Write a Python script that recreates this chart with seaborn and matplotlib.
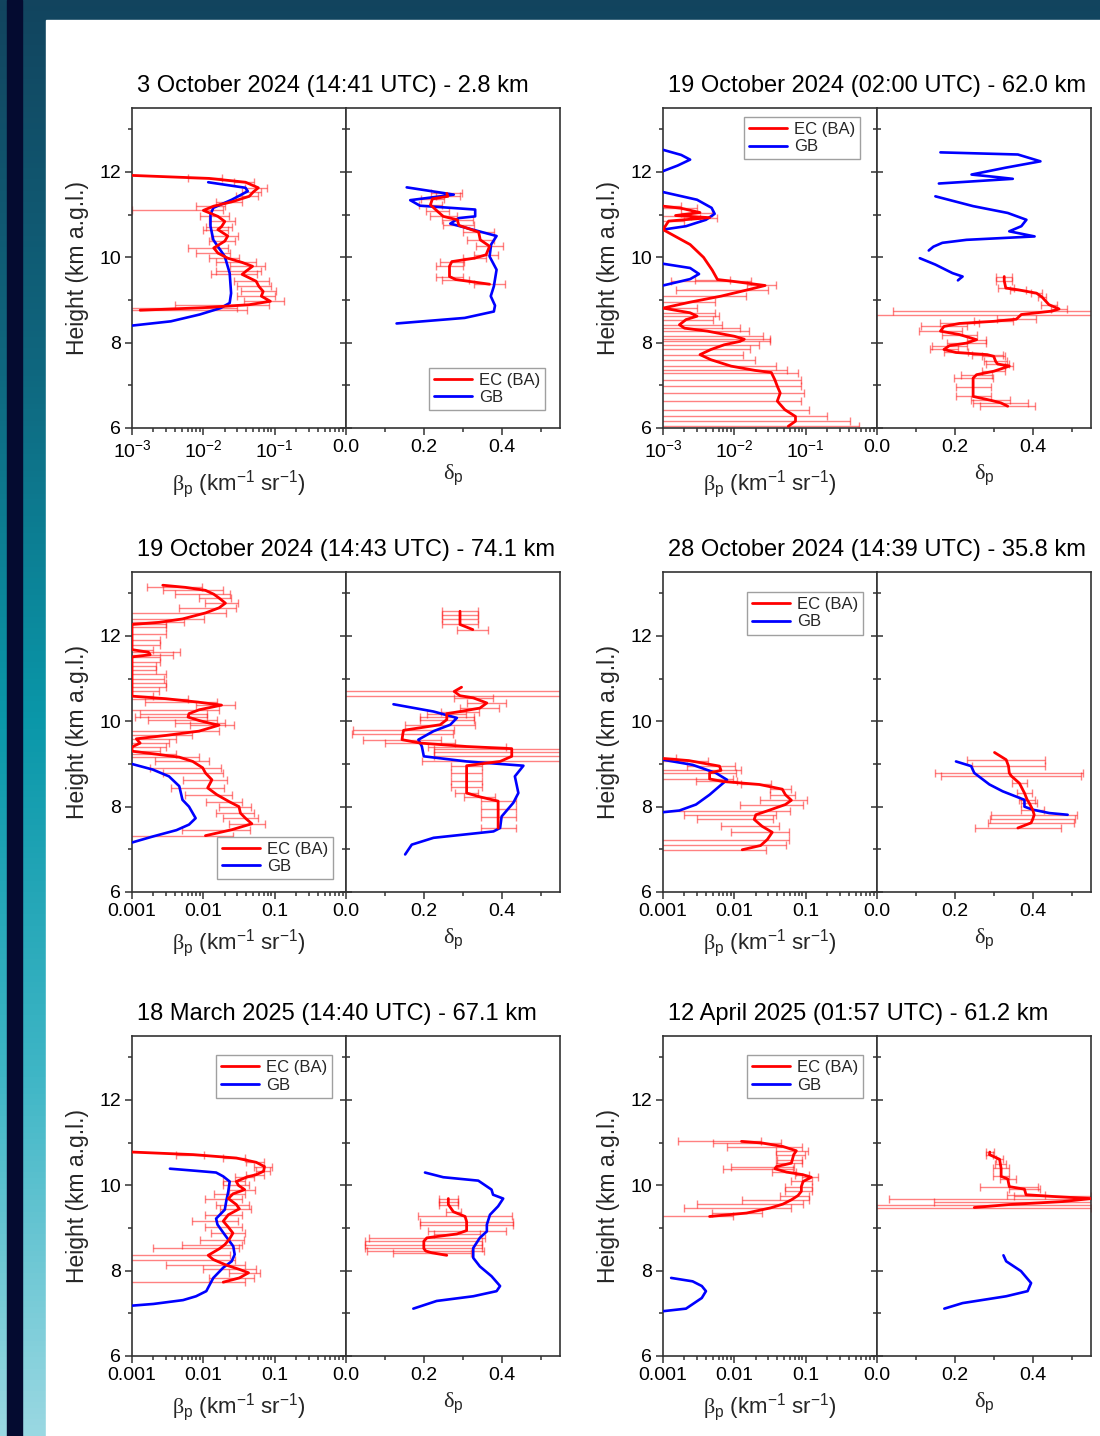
import matplotlib
matplotlib.use("Agg")
import matplotlib.pyplot as plt
import matplotlib.ticker as mticker
import numpy as np
import seaborn as sns
from matplotlib.colors import LinearSegmentedColormap
from matplotlib.lines import Line2D
from matplotlib.patches import Rectangle

# ---------------------------------------------------------------- data
titles = [
    "3 October 2024 (14:41 UTC) - 2.8 km",
    "19 October 2024 (02:00 UTC) - 62.0 km",
    "19 October 2024 (14:43 UTC) - 74.1 km",
    "28 October 2024 (14:39 UTC) - 35.8 km",
    "18 March 2025 (14:40 UTC) - 67.1 km",
    "12 April 2025 (01:57 UTC) - 61.2 km",
]

# panel 1 - 3 October 2024
p1_ec_h = [11.92, 11.85, 11.76, 11.63, 11.53, 11.43, 11.3, 11.2, 11.1, 10.96, 10.84, 10.72,
           10.65, 10.5, 10.38, 10.22, 10.1, 9.98, 9.88, 9.79, 9.68, 9.6, 9.44, 9.32, 9.2,
           9.09, 8.97, 8.89, 8.82, 8.76]
p1_ec_beta = [0.001, 0.012, 0.039, 0.059, 0.05, 0.044, 0.025, 0.014, 0.010, 0.016, 0.020,
              0.018, 0.016, 0.022, 0.020, 0.014, 0.016, 0.022, 0.035, 0.049, 0.040, 0.035,
              0.055, 0.060, 0.069, 0.065, 0.087, 0.044, 0.010, 0.0013]
p1_ec_beta_err = [0, 0.006, 0.012, 0.02, 0.015, 0.015, 0.01, 0.006, 0.009, 0.007, 0.008,
                  0.007, 0.006, 0.009, 0.008, 0.008, 0.008, 0.01, 0.02, 0.025, 0.025, 0.022,
                  0.028, 0.03, 0.035, 0.035, 0.05, 0.04, 0.02, 0.04]
p1_gb_h = [11.76, 11.63, 11.55, 11.35, 11.16, 11.0, 10.73, 10.41, 10.02, 9.63, 9.16, 8.93,
           8.81, 8.66, 8.5, 8.4]
p1_gb_beta = [0.0117, 0.039, 0.042, 0.025, 0.0138, 0.0126, 0.0126, 0.0138, 0.020, 0.0234,
              0.0245, 0.0234, 0.0174, 0.0089, 0.0035, 0.001]
p1_ec_dh = [11.5, 11.43, 11.37, 11.23, 11.08, 10.96, 10.88, 10.75, 10.59, 10.41, 10.26,
            10.06, 9.98, 9.9, 9.79, 9.55, 9.48, 9.37]
p1_ec_delta = [0.259, 0.262, 0.222, 0.217, 0.235, 0.25, 0.286, 0.29, 0.341, 0.345, 0.369,
               0.36, 0.33, 0.272, 0.266, 0.266, 0.282, 0.369]
p1_ec_delta_err = [0.04, 0.03, 0.03, 0.03, 0.03, 0.035, 0.04, 0.04, 0.04, 0.035, 0.035,
                   0.03, 0.03, 0.03, 0.035, 0.035, 0.035, 0.04]
p1_gb_dh = [11.64, 11.47, 11.34, 11.21, 11.12, 10.96, 10.92, 10.79, 10.5, 10.3, 10.02,
            9.71, 9.32, 9.09, 8.87, 8.73, 8.58, 8.45]
p1_gb_delta = [0.156, 0.277, 0.165, 0.19, 0.332, 0.332, 0.29, 0.268, 0.387, 0.373, 0.369,
               0.387, 0.38, 0.372, 0.383, 0.38, 0.305, 0.13]

# panel 2 - 19 October 2024 (02:00)
p2_ec_h = [11.2, 11.15, 11.05, 10.98, 10.93, 10.85, 10.65, 10.3, 10.0, 9.7, 9.48, 9.44,
           9.34, 9.24, 9.09, 8.95, 8.81, 8.7, 8.62, 8.54, 8.42, 8.34, 8.27, 8.15, 8.08,
           8.03, 7.95, 7.84, 7.72, 7.6, 7.45, 7.35, 7.3, 7.13, 6.98, 6.82, 6.63, 6.43,
           6.27, 6.16, 6.04]
p2_ec_beta = [0.001, 0.0018, 0.0033, 0.0015, 0.0045, 0.0012, 0.001, 0.0024, 0.0037, 0.0049,
              0.0058, 0.0093, 0.027, 0.0155, 0.0065, 0.0024, 0.001, 0.0024, 0.003, 0.0021,
              0.0017, 0.002, 0.0042, 0.010, 0.0138, 0.012, 0.0072, 0.0047, 0.0033, 0.0047,
              0.009, 0.0195, 0.033, 0.037, 0.040, 0.044, 0.040, 0.051, 0.072, 0.072, 0.057]
p2_ec_beta_err = [0.0008, 0.0012, 0.0015, 0.001, 0.0012, 0.0008, 0, 0, 0, 0, 0.003, 0.008,
                  0.012, 0.014, 0.008, 0.003, 0.002, 0.003, 0.003, 0.003, 0.005, 0.01,
                  0.012, 0.015, 0.018, 0.02, 0.015, 0.012, 0.01, 0.015, 0.03, 0.035, 0.045,
                  0.05, 0.045, 0.05, 0.045, 0.06, 0.13, 0.35, 0.5]
p2_gb_h = [12.52, 12.4, 12.29, 12.15, 12.02, np.nan,
           11.53, 11.35, 11.16, 11.02, 10.88, 10.73, 10.65, np.nan,
           9.85, 9.75, 9.61, 9.49, 9.34]
p2_gb_beta = [0.001, 0.0018, 0.0024, 0.0016, 0.001, np.nan,
              0.001, 0.003, 0.0048, 0.0053, 0.0040, 0.0021, 0.001, np.nan,
              0.001, 0.0024, 0.0032, 0.0024, 0.001]
p2_ec_dh = [9.55, 9.45, 9.28, 9.24, 9.16, 9.07, 8.89, 8.79, 8.74, 8.66, 8.55, 8.5, 8.45,
            8.38, 8.27, 8.19, 8.07, 7.99, 7.93, 7.84, 7.77, 7.72, 7.68, 7.56, 7.5, 7.45,
            7.33, 7.25, 7.17, 6.95, 6.74, 6.65, 6.59, 6.51]
p2_ec_delta = [0.327, 0.327, 0.331, 0.362, 0.41, 0.424, 0.442, 0.468, 0.45, 0.371, 0.358,
               0.30, 0.212, 0.172, 0.163, 0.212, 0.256, 0.23, 0.186, 0.172, 0.203, 0.283,
               0.30, 0.305, 0.31, 0.34, 0.30, 0.256, 0.247, 0.247, 0.247, 0.292, 0.318,
               0.336]
p2_ec_delta_err = [0.02, 0.02, 0.02, 0.02, 0.015, 0.01, 0.02, 0.02, 0.41, 0.38, 0.05, 0.05,
                   0.05, 0.06, 0.055, 0.045, 0.025, 0.05, 0.045, 0.035, 0.03, 0.04, 0.03,
                   0.03, 0.03, 0.01, 0.03, 0.04, 0.05, 0.045, 0.045, 0.05, 0.07, 0.07]
p2_gb_dh = [12.46, 12.41, 12.25, 12.1, 11.94, 11.88, 11.84, 11.73, np.nan,
            11.43, 11.2, 11.04, 10.88, 10.73, 10.61, 10.49, 10.41, 10.34, 10.25, 10.16,
            np.nan, 9.98, 9.83, 9.63, 9.55, 9.5, 9.46]
p2_gb_delta = [0.163, 0.362, 0.42, 0.33, 0.243, 0.309, 0.349, 0.159, np.nan,
               0.15, 0.247, 0.336, 0.384, 0.371, 0.34, 0.405, 0.23, 0.168, 0.145, 0.133,
               np.nan, 0.11, 0.15, 0.194, 0.22, 0.213, 0.208]

# panel 3 - 19 October 2024 (14:43)
p3_ec_h = [13.19, 13.14, 13.07, 12.98, 12.89, 12.77, 12.66, 12.54, 12.4, 12.32, 12.27,
           12.2, 12.05, 11.9, 11.8, 11.68, 11.62, 11.56, 11.51, 11.4, 11.3, 11.2, 11.1,
           11.0, 10.9, 10.8, 10.7, 10.59, 10.53, 10.45, 10.38, 10.27, 10.18, 10.1, 10.02,
           9.96, 9.91, 9.77, 9.67, 9.59, 9.49, 9.4, 9.3, 9.23, 9.16, 9.06, 8.91, 8.79,
           8.63, 8.44, 8.28, 8.12, 8.0, 7.85, 7.73, 7.6, 7.46, 7.32]
p3_ec_beta = [0.0027, 0.0056, 0.0107, 0.014, 0.0166, 0.0204, 0.0166, 0.0107, 0.0051,
              0.0024, 0.001, 0.001, 0.001, 0.001, 0.001, 0.001, 0.0017, 0.0018, 0.001,
              0.001, 0.001, 0.001, 0.001, 0.001, 0.001, 0.001, 0.001, 0.001, 0.003, 0.0085,
              0.018, 0.0087, 0.0063, 0.0061, 0.0087, 0.012, 0.0166, 0.0087, 0.003, 0.00115,
              0.0013, 0.001, 0.001, 0.0022, 0.0046, 0.0071, 0.0098, 0.0107, 0.0132, 0.0115,
              0.0155, 0.0229, 0.0316, 0.0331, 0.0389, 0.0479, 0.0251, 0.0107]
p3_ec_beta_err = [0, 0.004, 0.008, 0.01, 0.008, 0.01, 0.012, 0.01, 0.005, 0.003, 0.002,
                  0.002, 0.002, 0.0015, 0.0015, 0.001, 0.003, 0.002, 0.0015, 0.0015, 0.0012,
                  0.0012, 0.002, 0.0018, 0.002, 0.002, 0.0014, 0.001, 0.003, 0.007, 0.01,
                  0.008, 0.005, 0.005, 0.007, 0.008, 0.01, 0.008, 0.004, 0.003, 0.002, 0.002,
                  0.0015, 0.002, 0.004, 0.005, 0.008, 0.008, 0.008, 0.008, 0.01, 0.012,
                  0.015, 0.018, 0.02, 0.025, 0.02, 0.015]
p3_gb_h = [9.0, 8.87, 8.71, 8.48, 8.16, 8.0, 7.73, 7.58, 7.45, 7.3, 7.16]
p3_gb_beta = [0.001, 0.00195, 0.0033, 0.0046, 0.0051, 0.0063, 0.0078, 0.0063, 0.0042,
              0.00195, 0.001]
p3_ec_dh = [12.58, 12.5, 12.4, 12.27, 12.15, np.nan,
            10.8, 10.7, 10.6, 10.55, 10.43, 10.31, 10.23, 10.18, 10.1, 10.04, 9.92, 9.79,
            9.7, 9.57, 9.49, 9.41, 9.36, 9.27, 9.18, 9.06, 8.96, 8.8, 8.6, 8.45, 8.32,
            8.23, 8.13, 7.95, 7.75, 7.5]
p3_ec_delta = [0.293, 0.293, 0.293, 0.293, 0.326, np.nan,
               0.297, 0.278, 0.293, 0.327, 0.362, 0.344, 0.293, 0.259, 0.259, 0.259, 0.242,
               0.148, 0.146, 0.144, 0.191, 0.31, 0.426, 0.426, 0.426, 0.396, 0.31, 0.31,
               0.31, 0.31, 0.31, 0.344, 0.391, 0.391, 0.391, 0.391]
p3_ec_delta_err = [0.045, 0.045, 0.045, 0.045, 0.04, np.nan,
                   0, 0.4, 0.4, 0.05, 0.05, 0.05, 0.05, 0.05, 0.07, 0.07, 0.09, 0.13, 0.13,
                   0.1, 0.09, 0.1, 0.2, 0.2, 0.2, 0.2, 0.04, 0.04, 0.04, 0.04, 0.03, 0.04,
                   0.045, 0.045, 0.045, 0.045]
p3_gb_dh = [10.4, 10.23, 10.08, 9.92, 9.77, 9.57, 9.41, 9.18, 9.06, 8.96, 8.71, 8.32,
            8.09, 7.77, 7.5, 7.42, 7.27, 7.11, 6.88]
p3_gb_delta = [0.122, 0.225, 0.285, 0.268, 0.225, 0.186, 0.195, 0.2, 0.31, 0.456, 0.434,
               0.443, 0.43, 0.4, 0.396, 0.379, 0.225, 0.169, 0.152]

# panel 4 - 28 October 2024
p4_ec_h = [9.13, 9.08, 8.95, 8.85, 8.79, 8.65, 8.59, 8.52, 8.41, 8.28, 8.15, 8.05, 7.91,
           7.81, 7.7, 7.54, 7.4, 7.23, 7.09, 6.99]
p4_ec_beta = [0.001, 0.0023, 0.0062, 0.0065, 0.0045, 0.0045, 0.0069, 0.0224, 0.047, 0.052,
              0.063, 0.052, 0.030, 0.020, 0.019, 0.0245, 0.034, 0.029, 0.0234, 0.0129]
p4_ec_beta_err = [0.0005, 0.002, 0.004, 0.006, 0.006, 0.005, 0.004, 0.01, 0.015, 0.02,
                  0.04, 0.04, 0.03, 0.018, 0.016, 0.018, 0.025, 0.03, 0.03, 0.015]
p4_gb_h = [9.1, 8.98, 8.79, 8.63, 8.48, 8.28, 8.05, 7.91, 7.87]
p4_gb_beta = [0.001, 0.0026, 0.0055, 0.0079, 0.0062, 0.0045, 0.0029, 0.0017, 0.001]
p4_ec_dh = [9.27, 9.1, 8.95, 8.79, 8.72, 8.55, 8.32, 8.16, 8.09, 7.93, 7.81, 7.7, 7.62, 7.5]
p4_ec_delta = [0.302, 0.332, 0.338, 0.34, 0.345, 0.366, 0.379, 0.386, 0.391, 0.40, 0.404,
               0.40, 0.396, 0.362]
p4_ec_delta_err = [0, 0.1, 0.095, 0.19, 0.18, 0.02, 0.02, 0.02, 0.02, 0.03, 0.11, 0.11,
                   0.11, 0.11]
p4_gb_dh = [9.06, 8.95, 8.79, 8.52, 8.36, 8.16, 8.0, 7.93, 7.85, 7.81]
p4_gb_delta = [0.203, 0.242, 0.25, 0.289, 0.323, 0.379, 0.379, 0.4, 0.443, 0.49]

# panel 5 - 18 March 2025
p5_ec_h = [10.78, 10.72, 10.64, 10.54, 10.44, 10.33, 10.25, 10.19, 10.09, 10.0, 9.9, 9.8,
           9.69, 9.55, 9.45, 9.31, 9.16, 9.02, 8.88, 8.73, 8.61, 8.52, 8.36, 8.26, 8.13,
           8.03, 7.95, 7.83, 7.73]
p5_ec_beta = [0.001, 0.0072, 0.029, 0.055, 0.072, 0.070, 0.055, 0.040, 0.029, 0.031, 0.038,
              0.026, 0.0224, 0.029, 0.032, 0.0224, 0.019, 0.0224, 0.026, 0.023, 0.020,
              0.017, 0.0117, 0.0138, 0.021, 0.032, 0.043, 0.032, 0.019]
p5_ec_beta_err = [0, 0.003, 0.01, 0.015, 0.02, 0.015, 0.015, 0.012, 0.01, 0.012, 0.015,
                  0.012, 0.012, 0.014, 0.015, 0.012, 0.012, 0.012, 0.013, 0.014, 0.015,
                  0.015, 0.012, 0.014, 0.018, 0.022, 0.02, 0.02, 0.02]
p5_gb_h = [10.39, 10.34, 10.3, 10.21, 10.09, 9.86, 9.62, 9.43, 9.22, 9.08, 8.84, 8.57,
           8.38, 8.22, 8.07, 7.83, 7.52, 7.4, 7.31, 7.22, 7.18]
p5_gb_beta = [0.0034, 0.0079, 0.0151, 0.019, 0.0234, 0.0224, 0.0209, 0.020, 0.0151, 0.0158,
              0.020, 0.0263, 0.0275, 0.025, 0.019, 0.0138, 0.011, 0.0079, 0.0052, 0.002,
              0.001]
p5_ec_dh = [9.69, 9.6, 9.55, 9.38, 9.27, 9.15, 9.08, 8.94, 8.86, 8.77, 8.69, 8.6, 8.52,
            8.46, 8.42, 8.36]
p5_ec_delta = [0.263, 0.263, 0.263, 0.276, 0.306, 0.31, 0.31, 0.31, 0.285, 0.208, 0.20,
               0.20, 0.20, 0.205, 0.22, 0.259]
p5_ec_delta_err = [0.025, 0.025, 0.025, 0.02, 0.12, 0.12, 0.12, 0.10, 0.06, 0.15, 0.15,
                   0.15, 0.15, 0.15, 0.10, 0]
p5_gb_dh = [10.3, 10.19, 10.11, 9.9, 9.78, 9.69, 9.51, 9.31, 9.08, 8.92, 8.77, 8.53, 8.3,
            8.1, 7.87, 7.64, 7.52, 7.4, 7.29, 7.11]
p5_gb_delta = [0.203, 0.25, 0.34, 0.374, 0.378, 0.404, 0.391, 0.37, 0.362, 0.362, 0.344,
               0.327, 0.327, 0.344, 0.374, 0.396, 0.387, 0.327, 0.233, 0.173]

# panel 6 - 12 April 2025
p6_ec_h = [11.03, 10.99, 10.91, 10.81, 10.72, 10.6, 10.52, 10.44, 10.39, 10.31, 10.25,
           10.19, 10.09, 9.97, 9.86, 9.76, 9.66, 9.56, 9.47, 9.35, 9.27]
p6_ec_beta = [0.0126, 0.025, 0.048, 0.074, 0.068, 0.065, 0.063, 0.039, 0.037, 0.054, 0.091,
              0.12, 0.092, 0.087, 0.087, 0.078, 0.063, 0.048, 0.032, 0.0148, 0.0045]
p6_ec_beta_err = [0.011, 0.02, 0.04, 0.035, 0.03, 0.025, 0.025, 0.03, 0.03, 0.02, 0.02,
                  0.03, 0.03, 0.035, 0.035, 0.035, 0.05, 0.045, 0.03, 0.01, 0.005]
p6_gb_h = [7.83, 7.75, 7.64, 7.52, 7.36, 7.11, 7.05]
p6_gb_beta = [0.0013, 0.0026, 0.0035, 0.004, 0.0035, 0.0021, 0.001]
p6_ec_dh = [10.78, 10.72, 10.61, 10.5, 10.4, 10.21, 10.15, 9.97, 9.91, 9.78, 9.74, 9.69,
            9.62, 9.55, 9.48]
p6_ec_delta = [0.29, 0.289, 0.315, 0.317, 0.319, 0.319, 0.336, 0.34, 0.379, 0.383, 0.451,
               0.55, 0.477, 0.34, 0.25]
p6_ec_delta_err = [0.01, 0.01, 0.01, 0.015, 0.02, 0.02, 0.02, 0.075, 0.04, 0.05, 0.1, 0.52,
                   0.33, 0.35, 0.3]
p6_gb_dh = [8.36, 8.22, 7.99, 7.71, 7.52, 7.4, 7.24, 7.11]
p6_gb_delta = [0.325, 0.332, 0.37, 0.396, 0.387, 0.332, 0.22, 0.173]

panels = [
    dict(ec_h=p1_ec_h, ec_beta=p1_ec_beta, ec_beta_err=p1_ec_beta_err, gb_h=p1_gb_h,
         gb_beta=p1_gb_beta, ec_dh=p1_ec_dh, ec_delta=p1_ec_delta,
         ec_delta_err=p1_ec_delta_err, gb_dh=p1_gb_dh, gb_delta=p1_gb_delta),
    dict(ec_h=p2_ec_h, ec_beta=p2_ec_beta, ec_beta_err=p2_ec_beta_err, gb_h=p2_gb_h,
         gb_beta=p2_gb_beta, ec_dh=p2_ec_dh, ec_delta=p2_ec_delta,
         ec_delta_err=p2_ec_delta_err, gb_dh=p2_gb_dh, gb_delta=p2_gb_delta),
    dict(ec_h=p3_ec_h, ec_beta=p3_ec_beta, ec_beta_err=p3_ec_beta_err, gb_h=p3_gb_h,
         gb_beta=p3_gb_beta, ec_dh=p3_ec_dh, ec_delta=p3_ec_delta,
         ec_delta_err=p3_ec_delta_err, gb_dh=p3_gb_dh, gb_delta=p3_gb_delta),
    dict(ec_h=p4_ec_h, ec_beta=p4_ec_beta, ec_beta_err=p4_ec_beta_err, gb_h=p4_gb_h,
         gb_beta=p4_gb_beta, ec_dh=p4_ec_dh, ec_delta=p4_ec_delta,
         ec_delta_err=p4_ec_delta_err, gb_dh=p4_gb_dh, gb_delta=p4_gb_delta),
    dict(ec_h=p5_ec_h, ec_beta=p5_ec_beta, ec_beta_err=p5_ec_beta_err, gb_h=p5_gb_h,
         gb_beta=p5_gb_beta, ec_dh=p5_ec_dh, ec_delta=p5_ec_delta,
         ec_delta_err=p5_ec_delta_err, gb_dh=p5_gb_dh, gb_delta=p5_gb_delta),
    dict(ec_h=p6_ec_h, ec_beta=p6_ec_beta, ec_beta_err=p6_ec_beta_err, gb_h=p6_gb_h,
         gb_beta=p6_gb_beta, ec_dh=p6_ec_dh, ec_delta=p6_ec_delta,
         ec_delta_err=p6_ec_delta_err, gb_dh=p6_gb_dh, gb_delta=p6_gb_delta),
]

beta_ticks = [1e-3, 1e-2, 1e-1]
sci_labels = [r"$\mathdefault{10^{-3}}$", r"$\mathdefault{10^{-2}}$", r"$\mathdefault{10^{-1}}$"]
dec_labels = ["0.001", "0.01", "0.1"]
delta_ticks = [0.0, 0.2, 0.4]
delta_labels = ["0.0", "0.2", "0.4"]
height_ticks = [6, 8, 10, 12]

# ---------------------------------------------------------------- style
sns.set_theme(style="ticks")
plt.rcParams["font.family"] = ["Liberation Sans", "DejaVu Sans"]
plt.rcParams["mathtext.fontset"] = "custom"
plt.rcParams["mathtext.rm"] = "Liberation Sans"
plt.rcParams["mathtext.it"] = "Liberation Sans:italic"
plt.rcParams["mathtext.sf"] = "Liberation Serif"
plt.rcParams["axes.edgecolor"] = "#333333"
plt.rcParams["axes.linewidth"] = 1.2

EC_COLOR = "#ff0000"
GB_COLOR = "#0000ff"
ERR_COLOR = (1.0, 0.1, 0.1, 0.55)

W, H = 1100, 1436
fig = plt.figure(figsize=(W / 100, H / 100), dpi=100)

# background frame: teal gradient, navy strip, white sheet
bg = fig.add_axes([0, 0, 1, 1], zorder=-10)
bg_cmap = LinearSegmentedColormap.from_list(
    "bg", ["#12445e", "#0f667e", "#0a97a9", "#3fb6c6", "#9ad8e2"])
bg.imshow(np.linspace(0, 1, 256)[:, None], cmap=bg_cmap, aspect="auto",
          extent=[0, W, H, 0])
bg.add_patch(Rectangle((7, 0), 15, H, color="#040b30"))
bg.add_patch(Rectangle((46, 20), W - 46, H - 20, color="white"))
bg.set_xlim(0, W)
bg.set_ylim(H, 0)
bg.axis("off")


def px_rect(x0, x1, y0, y1):
    return [x0 / W, 1 - y1 / H, (x1 - x0) / W, (y1 - y0) / H]


def draw_profile(ax, x, y, color, lw):
    x = np.asarray(x, float)
    y = np.asarray(y, float)
    gaps = np.isnan(y) | np.isnan(x)
    seg = np.cumsum(gaps)
    for k in np.unique(seg[~gaps]):
        m = (seg == k) & ~gaps
        sns.lineplot(x=x[m], y=y[m], sort=False, estimator=None, color=color,
                     lw=lw, ax=ax, zorder=3)


def draw_errors(ax, x, y, err, floor):
    x = np.asarray(x, float)
    y = np.asarray(y, float)
    err = np.asarray(err, float)
    m = ~np.isnan(x) & (err > 0)
    lo = x[m] - np.maximum(x[m] - err[m], floor)
    ax.errorbar(x[m], y[m], xerr=[lo, err[m]], fmt="none", ecolor=ERR_COLOR,
                elinewidth=1.0, capsize=3, capthick=1.0, zorder=1)


col_x = [(132, 346, 560), (663, 877, 1091)]
row_y = [108, 572, 1036]
legend_spots = [
    ("d", "lower right", (0.93, 0.056)),
    ("b", "upper right", (0.92, 0.972)),
    ("b", "lower right", (0.94, 0.04)),
    ("b", "upper right", (0.935, 0.9375)),
    ("b", "upper right", (0.935, 0.94)),
    ("b", "upper right", (0.935, 0.94)),
]

for i, p in enumerate(panels):
    r, c = divmod(i, 2)
    x0, xm, x1 = col_x[c]
    y0 = row_y[r]
    y1 = y0 + 320
    ax_b = fig.add_axes(px_rect(x0, xm, y0, y1))
    ax_d = fig.add_axes(px_rect(xm, x1, y0, y1))

    # backscatter
    ax_b.set_xscale("log")
    draw_errors(ax_b, p["ec_beta"], p["ec_h"], p["ec_beta_err"], 1e-5)
    draw_profile(ax_b, p["gb_beta"], p["gb_h"], GB_COLOR, 1.9)
    draw_profile(ax_b, p["ec_beta"], p["ec_h"], EC_COLOR, 2.0)
    ax_b.set_xlim(1e-3, 1)
    ax_b.set_ylim(6, 13.5)
    ax_b.set_xticks(beta_ticks)
    ax_b.set_xticklabels(sci_labels if i < 2 else dec_labels)
    ax_b.xaxis.set_minor_locator(mticker.LogLocator(base=10, subs=np.arange(2, 10)))
    ax_b.xaxis.set_minor_formatter(mticker.NullFormatter())
    ax_b.set_yticks(height_ticks)
    ax_b.yaxis.set_minor_locator(mticker.MultipleLocator(1))
    ax_b.tick_params(which="both", direction="out", width=1.1, labelsize=14,
                     colors="#333333", labelcolor="black")
    ax_b.tick_params(which="major", length=5, pad=3)
    ax_b.tick_params(which="minor", length=3)
    ax_b.set_xlabel(r"$\mathsf{\beta}_\mathrm{p}$ (km$^{-1}$ sr$^{-1}$)", fontsize=16,
                    labelpad=5)
    ax_b.set_ylabel("Height (km a.g.l.)", fontsize=16.5, labelpad=7)

    # depolarisation
    draw_errors(ax_d, p["ec_delta"], p["ec_dh"], p["ec_delta_err"], -1.0)
    draw_profile(ax_d, p["gb_delta"], p["gb_dh"], GB_COLOR, 1.9)
    draw_profile(ax_d, p["ec_delta"], p["ec_dh"], EC_COLOR, 2.0)
    ax_d.set_xlim(0, 0.55)
    ax_d.set_ylim(6, 13.5)
    ax_d.set_xticks(delta_ticks)
    ax_d.set_xticklabels(delta_labels)
    ax_d.xaxis.set_minor_locator(mticker.FixedLocator([0.1, 0.3, 0.5]))
    ax_d.set_yticks(height_ticks)
    ax_d.yaxis.set_minor_locator(mticker.MultipleLocator(1))
    ax_d.tick_params(axis="x", which="both", direction="out", width=1.1, labelsize=14,
                     colors="#333333", labelcolor="black")
    ax_d.tick_params(axis="x", which="major", length=5, pad=3)
    ax_d.tick_params(axis="x", which="minor", length=3)
    ax_d.tick_params(axis="y", which="both", direction="inout", labelleft=False,
                     width=1.1, colors="#333333")
    ax_d.tick_params(axis="y", which="major", length=9)
    ax_d.tick_params(axis="y", which="minor", length=6)
    ax_d.set_xlabel(r"$\mathsf{\delta}_\mathrm{p}$", fontsize=16, labelpad=5)
    ax_d.set_ylabel("")

    for ax in (ax_b, ax_d):
        for s in ax.spines.values():
            s.set_visible(True)
            s.set_color("#333333")
            s.set_linewidth(1.2)

    # legend
    where, loc, anchor = legend_spots[i]
    handles = [Line2D([], [], color=EC_COLOR, lw=2, label="EC (BA)"),
               Line2D([], [], color=GB_COLOR, lw=2, label="GB")]
    lax = ax_d if where == "d" else ax_b
    leg = lax.legend(handles=handles, loc=loc, bbox_to_anchor=anchor, fontsize=12,
                     frameon=True, fancybox=False, framealpha=1, edgecolor="#a0a0a0",
                     borderaxespad=0, borderpad=0.3, labelspacing=0.15,
                     handlelength=2.3, handletextpad=0.4)
    leg.get_frame().set_linewidth(1.0)

    fig.text((x0 + 5) / W, 1 - (y0 - 22) / H, titles[i], fontsize=17,
             ha="left", va="center", color="black")

fig.savefig("out.png", dpi=100)
